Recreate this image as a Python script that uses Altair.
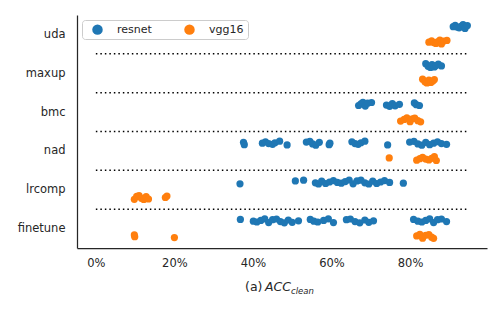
import altair as alt
import pandas as pd

categories = ["uda", "maxup", "bmc", "nad", "lrcomp", "finetune"]
models = ["resnet", "vgg16"]
colors = ["#1f77b4", "#ff7f0e"]

uda_resnet = [0.910, 0.915, 0.920, 0.925, 0.930, 0.935, 0.940, 0.946]
uda_vgg16 = [0.848, 0.855, 0.860, 0.866, 0.870, 0.876, 0.880, 0.886, 0.894]
maxup_resnet = [0.840, 0.846, 0.852, 0.856, 0.862, 0.866, 0.872, 0.880]
maxup_vgg16 = [0.832, 0.838, 0.843, 0.848, 0.853, 0.858, 0.862]
bmc_resnet = [0.669, 0.675, 0.680, 0.686, 0.692, 0.702, 0.740, 0.748, 0.755,
              0.762, 0.773, 0.811, 0.816, 0.824]
bmc_vgg16 = [0.776, 0.785, 0.792, 0.800, 0.806, 0.812, 0.820, 0.827]
nad_resnet = [0.376, 0.378, 0.424, 0.432, 0.440, 0.450, 0.456, 0.468, 0.487, 0.536,
              0.545, 0.552, 0.560, 0.569, 0.594, 0.596, 0.652, 0.660, 0.668,
              0.675, 0.685, 0.743, 0.799, 0.810, 0.820, 0.830, 0.840, 0.850,
              0.860, 0.870, 0.880, 0.893]
nad_vgg16 = [0.747, 0.817, 0.825, 0.832, 0.840, 0.848, 0.855, 0.862, 0.867]
lrcomp_resnet = [0.367, 0.508, 0.529, 0.559, 0.567, 0.575, 0.585, 0.595, 0.605,
                 0.615, 0.625, 0.635, 0.645, 0.655, 0.665, 0.675, 0.685, 0.695,
                 0.705, 0.715, 0.725, 0.735, 0.748, 0.783]
lrcomp_vgg16 = [0.098, 0.104, 0.110, 0.116, 0.122, 0.128, 0.134, 0.177, 0.181]
finetune_resnet = [0.368, 0.401, 0.410, 0.420, 0.430, 0.440, 0.450, 0.460, 0.470,
                   0.480, 0.490, 0.500, 0.516, 0.546, 0.555, 0.565, 0.580, 0.592,
                   0.605, 0.638, 0.648, 0.660, 0.672, 0.685, 0.695, 0.707, 0.809,
                   0.820, 0.830, 0.840, 0.850, 0.860, 0.870, 0.880, 0.893]
finetune_vgg16 = [0.098, 0.099, 0.200, 0.817, 0.825, 0.832, 0.840, 0.848, 0.855, 0.860]

series = {
    ("uda", "resnet"): uda_resnet, ("uda", "vgg16"): uda_vgg16,
    ("maxup", "resnet"): maxup_resnet, ("maxup", "vgg16"): maxup_vgg16,
    ("bmc", "resnet"): bmc_resnet, ("bmc", "vgg16"): bmc_vgg16,
    ("nad", "resnet"): nad_resnet, ("nad", "vgg16"): nad_vgg16,
    ("lrcomp", "resnet"): lrcomp_resnet, ("lrcomp", "vgg16"): lrcomp_vgg16,
    ("finetune", "resnet"): finetune_resnet, ("finetune", "vgg16"): finetune_vgg16,
}

# fixed (non-random) jitter pattern, in pixels
jitter_px = [0, -1.8, 1.2, -0.8, 1.8, -1.4, 0.8, -0.4, 1.5, -1.1, 0.4, 2, -2]
px_per_unit = 38.8
dodge = {"resnet": -0.2, "vgg16": 0.2}

rows = []
for (cat, model), vals in series.items():
    ci = categories.index(cat)
    for i, v in enumerate(vals):
        j = jitter_px[(i * 5 + ci) % len(jitter_px)] / px_per_unit
        rows.append({"method": cat, "model": model, "acc": v,
                     "ypos": ci + dodge[model] + j})
df = pd.DataFrame(rows)

sep = pd.DataFrame({"acc": [0.0] * 5, "acc_end": [0.945] * 5,
                    "ypos": [0.5, 1.5, 2.5, 3.5, 4.5]})

label_expr = "[" + ",".join("'%s'" % c for c in categories) + "][datum.value]"

xscale = alt.Scale(domain=[-0.048, 0.996], nice=False, zero=False)
yscale = alt.Scale(domain=[-0.5, 5.5], reverse=True, nice=False, zero=False)

points = alt.Chart(df).mark_circle(size=52, opacity=1).encode(
    x=alt.X("acc:Q", scale=xscale,
            axis=alt.Axis(values=[0, 0.2, 0.4, 0.6, 0.8], format=".0%",
                          title=None, grid=False, ticks=False, labelPadding=9,
                          domainColor="#262626", domainWidth=1.25,
                          labelColor="#262626", labelFontSize=11.5,
                          labelFont="DejaVu Sans")),
    y=alt.Y("ypos:Q", scale=yscale,
            axis=alt.Axis(values=[0, 1, 2, 3, 4, 5], labelExpr=label_expr,
                          title=None, grid=False, ticks=False, labelPadding=12,
                          domainColor="#262626", domainWidth=1.25,
                          labelColor="#262626", labelFontSize=11.5,
                          labelFont="DejaVu Sans")),
    color=alt.Color("model:N", scale=alt.Scale(domain=models, range=colors),
                    legend=alt.Legend(title=None, orient="top-left", direction="horizontal",
                                      columns=2, offset=5, symbolType="circle",
                                      symbolSize=110, symbolStrokeWidth=0,
                                      labelFontSize=11, labelFont="DejaVu Sans",
                                      labelColor="#262626", labelOffset=14,
                                      columnPadding=26, padding=4, symbolOffset=6,
                                      fillColor="white", strokeColor="#cccccc",
                                      cornerRadius=3)),
)

rules = alt.Chart(sep).mark_rule(color="black", strokeWidth=1.5, strokeDash=[1.5, 3]).encode(
    x="acc:Q", x2="acc_end:Q", y="ypos:Q"
)

t1 = alt.Chart(pd.DataFrame({"t": ["(a)"]})).mark_text(
    align="left", baseline="alphabetic", fontSize=12.5, font="DejaVu Sans", color="#262626"
).encode(text="t:N", x=alt.value(168), y=alt.value(276))
t2 = alt.Chart(pd.DataFrame({"t": ["ACC"]})).mark_text(
    align="left", baseline="alphabetic", fontSize=12.5, font="DejaVu Sans",
    fontStyle="italic", color="#262626"
).encode(text="t:N", x=alt.value(188), y=alt.value(276))
t3 = alt.Chart(pd.DataFrame({"t": ["clean"]})).mark_text(
    align="left", baseline="alphabetic", fontSize=8.5, font="DejaVu Sans",
    fontStyle="italic", color="#262626"
).encode(text="t:N", x=alt.value(214), y=alt.value(279))

chart = alt.layer(rules, points, t1, t2, t3).properties(
    width=410, height=233,
    background="white",
    autosize=alt.AutoSizeParams(type="none"),
    padding={"left": 69, "top": 7, "right": 5, "bottom": 50},
).configure_view(strokeWidth=0, stroke="transparent")

chart.save("out.html", embed_options={"renderer": "svg", "actions": False})
